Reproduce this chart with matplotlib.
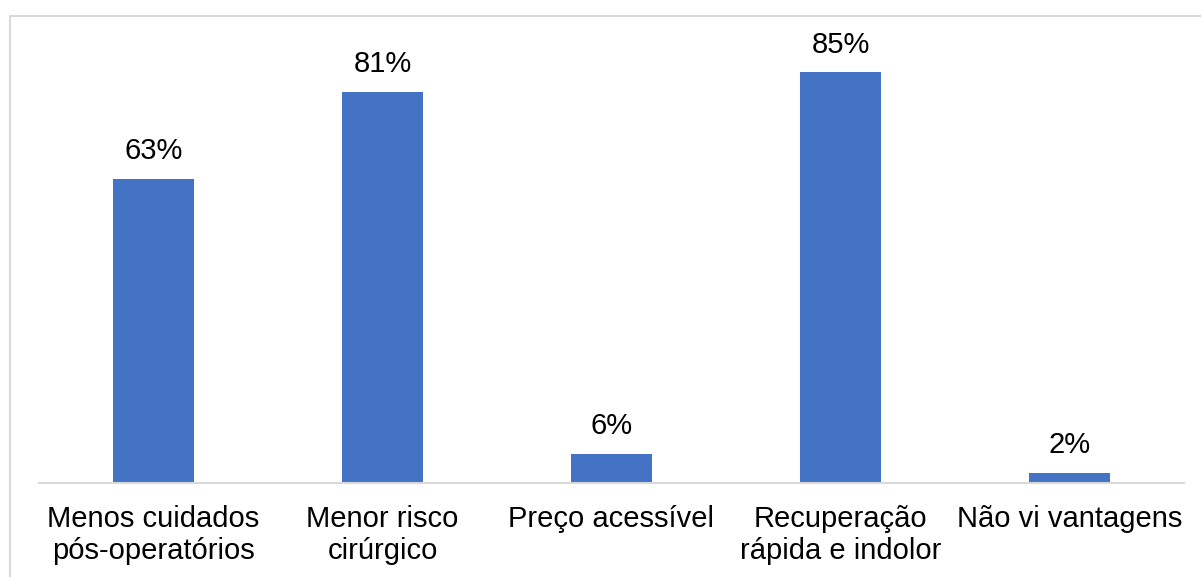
"""Bar chart: perceived advantages (percent of respondents)."""

import matplotlib
matplotlib.use("Agg")
import matplotlib.pyplot as plt
from matplotlib.patches import Rectangle

categories = [
    "Menos cuidados\npós-operatórios",
    "Menor risco\ncirúrgico",
    "Preço acessível",
    "Recuperação\nrápida e indolor",
    "Não vi vantagens",
]
values = [63, 81, 6, 85, 2]

W, H = 1201, 577
plt.rcParams["font.family"] = ["Liberation Sans", "DejaVu Sans"]

fig = plt.figure(figsize=(W / 100, H / 100), dpi=100)
ax = fig.add_axes([39 / W, (H - 483) / H, (1184 - 39) / W, (483 - 40) / H])

x = range(len(categories))
bars = ax.bar(x, values, width=0.354, color="#4472C4", zorder=2)
for rect, v in zip(bars, values):
    ax.annotate(f"{v}%", (rect.get_x() + rect.get_width() / 2, v),
                xytext=(0, 10), textcoords="offset points",
                ha="center", va="bottom", fontsize=21, color="#000000")

ax.set_xlim(-0.5, len(categories) - 0.5)
ax.set_ylim(0, 443 / 4.83)
ax.set_xticks(list(x))
ax.set_xticklabels(categories, fontsize=21, linespacing=1.15)
ax.tick_params(axis="x", length=0, pad=16)
ax.set_yticks([])
for side in ("top", "left", "right"):
    ax.spines[side].set_visible(False)
ax.spines["bottom"].set_color("#d9d9d9")
ax.spines["bottom"].set_linewidth(1.5)

# light chart-area border (runs off the right and bottom edges)
fig.patches.append(Rectangle((10 / W, -0.1), 1.2, (H - 16) / H + 0.1,
                             transform=fig.transFigure, fill=False,
                             edgecolor="#d9d9d9", linewidth=1.5))

fig.savefig("out.png", dpi=100)
